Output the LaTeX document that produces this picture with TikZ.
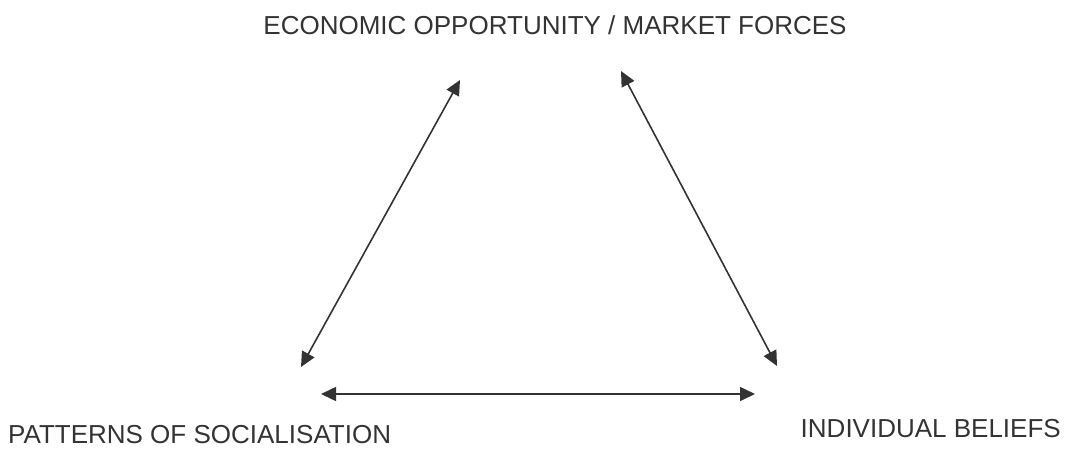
\documentclass[tikz,border=0pt]{standalone}
\usepackage{fontspec}
\setmainfont{Liberation Sans}
\usetikzlibrary{arrows.meta}
\definecolor{ink}{HTML}{333333}
\tikzset{
  lbl/.style={inner sep=0pt, text=ink, font=\fontsize{26}{30}\selectfont},
  link/.style={ink, line width=1.6pt, {Triangle[length=15pt,width=14pt]}-{Triangle[length=15pt,width=14pt]}}
}
\begin{document}
\begin{tikzpicture}[x=1pt,y=-1pt]
\useasboundingbox (0,0) rectangle (1073,450);
\node[lbl, anchor=base] (eco) at (555,34) {ECONOMIC OPPORTUNITY / MARKET FORCES};
\node[lbl, anchor=base west] (soc) at (8,443) {PATTERNS OF SOCIALISATION};
\node[lbl, anchor=base east] (ind) at (1061,437) {INDIVIDUAL BELIEFS};
\coordinate (lt) at (460,80);
\coordinate (lb) at (301,367);
\coordinate (rt) at (621,71);
\coordinate (rb) at (777,366);
\coordinate (hl) at (321,394);
\coordinate (hr) at (755,394);
\draw[link] (lb) -- (lt);
\draw[link] (rt) -- (rb);
\draw[link] (hl) -- (hr);
\end{tikzpicture}
\end{document}
